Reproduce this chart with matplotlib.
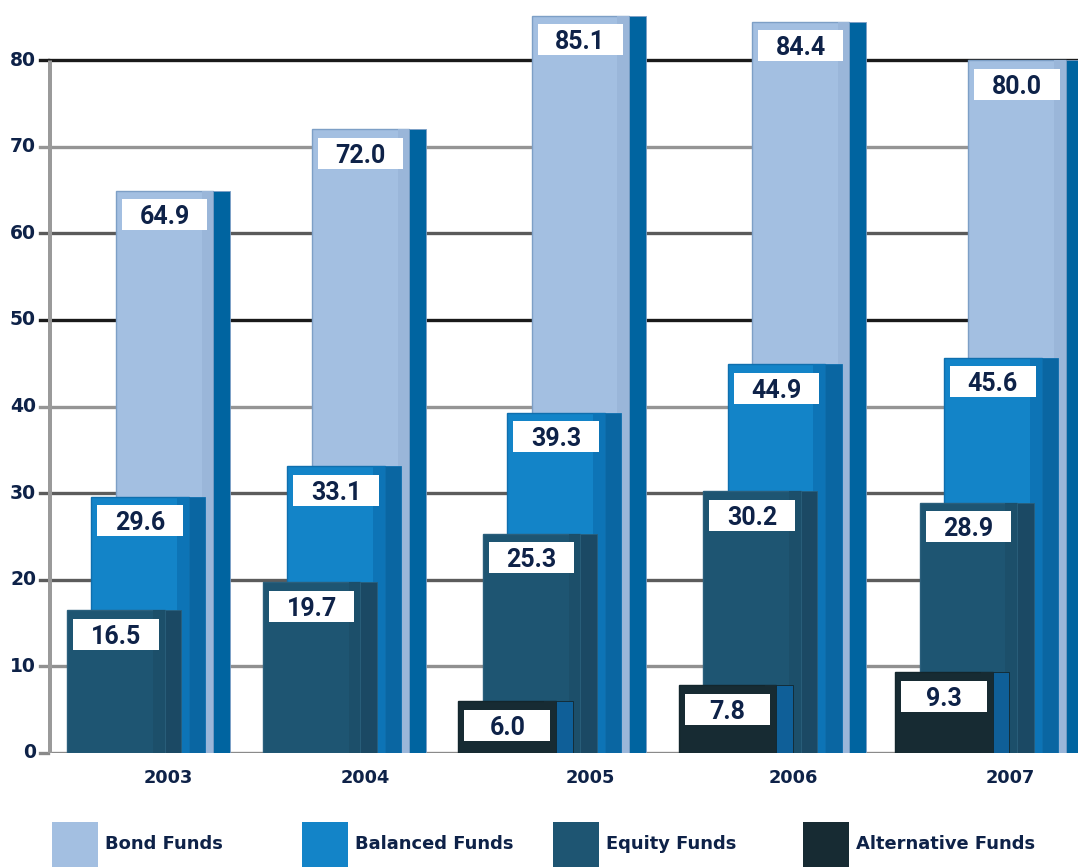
import matplotlib
matplotlib.use("Agg")
import matplotlib.pyplot as plt
from matplotlib.patches import Rectangle

# ---- data -------------------------------------------------------------
years = ["2003", "2004", "2005", "2006", "2007"]
bond_funds = [64.9, 72.0, 85.1, 84.4, 80.0]
balanced_funds = [29.6, 33.1, 39.3, 44.9, 45.6]
equity_funds = [16.5, 19.7, 25.3, 30.2, 28.9]
alternative_funds = [None, None, 6.0, 7.8, 9.3]
series_names = ["Bond Funds", "Balanced Funds", "Equity Funds", "Alternative Funds"]
y_ticks = [0, 10, 20, 30, 40, 50, 60, 70, 80]

# ---- styling ------------------------------------------------------------
NAVY = "#0e2248"
front_colors = ["#a3bfe1", "#1384c8", "#1e5572", "#172b33"]
shade_colors = ["#9ab6d9", "#0d74b6", "#1c4f6a", "#172b33"]
side_colors = ["#0064a0", "#0a66a2", "#1b4964", "#0f5f98"]
edge_colors = ["#7d9fc6", "#0f6fae", "#2a5f7c", "#13262d"]
slot_offset = [0.5, 0.25, 0.0, -0.25]      # bond sits at the back, alternative in front
grid_colors = ["#8a8a8a", "#909090", "#5c5c5c", "#5c5c5c", "#959595",
               "#1a1a1a", "#5a5a5a", "#959595", "#1a1a1a"]

W, H, DPI = 1078, 867, 100
fig = plt.figure(figsize=(W / DPI, H / DPI), dpi=DPI)
fig.patch.set_facecolor("white")

# plot area in pixels
ax_left, ax_right, ax_zero, ax_top = 48, 1078, 753, 0
ax = fig.add_axes([ax_left / W, (H - ax_zero) / H,
                   (ax_right - ax_left) / W, (ax_zero - ax_top) / H])
UNIT_PX = 97.5                      # width of one bar face in pixels
PX_PER_VAL = 693 / 80               # vertical pixels per value unit
ax.set_xlim(0, (ax_right - ax_left) / UNIT_PX)
ax.set_ylim(0, (ax_zero - ax_top) / PX_PER_VAL)
ax.axis("off")

group_left = [0.195, 2.205, 4.46, 6.72, 8.94]   # left edge of the equity slot per year
year_label_x = [1.23, 3.25, 5.56, 7.64, 9.87]   # centres of the year captions
FACE_W = 1.0
SIDE_W = 0.17
SHADE_W = 0.12

# grid lines, tick stubs and the vertical axis
for v, c in zip(y_ticks, grid_colors):
    ax.axhline(v, color=c, lw=2.4, zorder=0.5)
    ax.plot([-8 / UNIT_PX, 0], [v, v], color=c, lw=2.4, clip_on=False, zorder=0.5)
    ax.text(-12 / UNIT_PX, v, str(v), ha="right", va="center", fontsize=13.5,
            fontweight="bold", color=NAVY, family="DejaVu Sans")
ax.plot([0.01, 0.01], [0, 80], color="#9a9a9a", lw=3.6, zorder=0.6,
        solid_capstyle="butt")

series_values = [bond_funds, balanced_funds, equity_funds, alternative_funds]
px_to_val = 1 / PX_PER_VAL
px_to_x = 1 / UNIT_PX

for s, values in enumerate(series_values):
    z = 2 + s * 2
    for g, val in enumerate(values):
        if val is None:
            continue
        x0 = group_left[g] + slot_offset[s]
        # front face
        ax.bar(x0, val, width=FACE_W, align="edge", color=front_colors[s],
               edgecolor=edge_colors[s], linewidth=1.0, zorder=z)
        # darker band on the right of the face
        ax.bar(x0 + FACE_W - SHADE_W, val, width=SHADE_W, align="edge",
               color=shade_colors[s], linewidth=0, zorder=z + 0.1)
        # side of the bar
        ax.bar(x0 + FACE_W, val, width=SIDE_W, align="edge", color=side_colors[s],
               edgecolor=edge_colors[s], linewidth=0.6, zorder=z + 0.05)
        # value label in a white box near the top of the face
        box_top = val - 8.5 * px_to_val
        box_h = 31 * px_to_val
        bx = x0 + 6 * px_to_x
        bw = FACE_W - 12 * px_to_x
        ax.add_patch(Rectangle((bx, box_top - box_h), bw, box_h, facecolor="white",
                               edgecolor="none", zorder=z + 0.5))
        ax.text(bx + bw / 2, box_top - box_h / 2, f"{val:.1f}", ha="center",
                va="center_baseline", fontsize=18, fontweight="bold", color=NAVY,
                family="Roboto", zorder=z + 0.6)

# year labels under each group
for xl, yr in zip(year_label_x, years):
    ax.text(xl, -25 * px_to_val, yr, ha="center", va="center",
            fontsize=12.8, fontweight="bold", color=NAVY, family="DejaVu Sans",
            clip_on=False)

# legend along the bottom
legend_x = [52, 302, 553, 803]
for name, color, lx in zip(series_names, front_colors, legend_x):
    fig.add_artist(Rectangle((lx / W, 0), 46 / W, 45 / H, transform=fig.transFigure,
                             facecolor=color, edgecolor="none"))
    fig.text((lx + 53) / W, (H - 844) / H, name, ha="left", va="center",
             fontsize=12.9, fontweight="bold", color=NAVY, family="DejaVu Sans")

fig.savefig("out.png", dpi=DPI, facecolor="white")
